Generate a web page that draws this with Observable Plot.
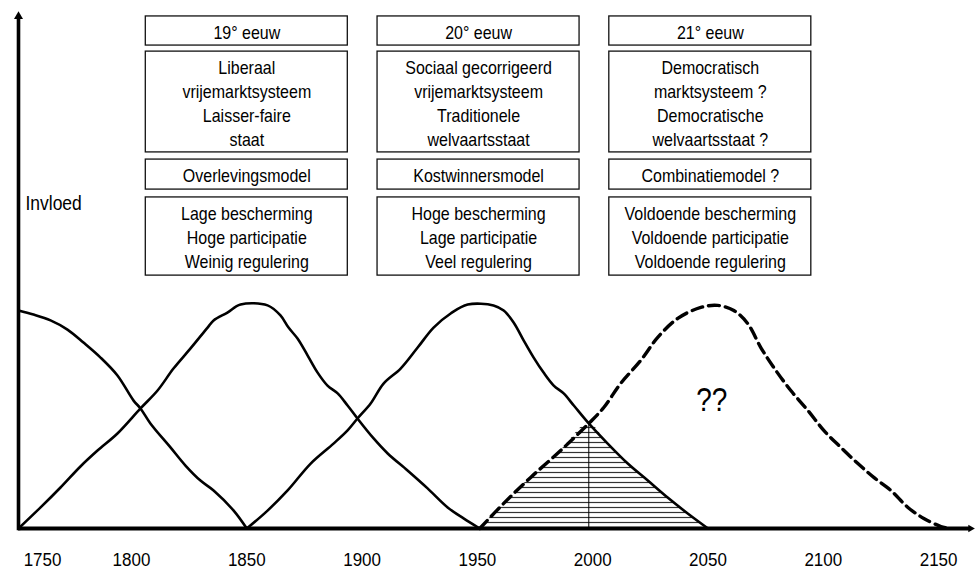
<!DOCTYPE html>
<html>
<head>
<meta charset="utf-8">
<script src="https://cdn.jsdelivr.net/npm/d3@7"></script>
<script src="https://cdn.jsdelivr.net/npm/@observablehq/plot@0.6"></script>
<style>
  html, body { margin: 0; padding: 0; background: #fff; }
  #chart svg { display: block; }
</style>
</head>
<body>
<div id="chart"></div>
<script>
// ---------- data ----------
const tickYears = [1750, 1800, 1850, 1900, 1950, 2000, 2050, 2100, 2150];

const eras = ["19° eeuw", "20° eeuw", "21° eeuw"];
const eraCenters = [1850, 1950.5, 2051];
const systems = [
  "Liberaal\nvrijemarktsysteem\nLaisser-faire\nstaat",
  "Sociaal gecorrigeerd\nvrijemarktsysteem\nTraditionele\nwelvaartsstaat",
  "Democratisch\nmarktsysteem ?\nDemocratische\nwelvaartsstaat ?"
];
const models = ["Overlevingsmodel", "Kostwinnersmodel", "Combinatiemodel ?"];
const traits = [
  "Lage bescherming\nHoge participatie\nWeinig regulering",
  "Hoge bescherming\nLage participatie\nVeel regulering",
  "Voldoende bescherming\nVoldoende participatie\nVoldoende regulering"
];

// influence curves: [year, influence]
const curve18 = [[1736.5,0.973],[1744.9,0.955],[1754.5,0.929],[1764.0,0.888],[1773.0,0.830],[1782.6,0.763],[1792.1,0.683],[1800.9,0.571],[1803.9,0.536],[1808.2,0.469],[1816.9,0.362],[1823.4,0.281],[1829.9,0.214],[1835.6,0.170],[1844.3,0.080],[1850,0]];
const curve19 = [[1736.5,0],[1748.9,0.094],[1760.1,0.183],[1771.3,0.277],[1780.9,0.348],[1792.1,0.424],[1803.9,0.536],[1811.3,0.616],[1818.2,0.714],[1825.6,0.804],[1833.0,0.897],[1835.6,0.929],[1841.6,0.964],[1847.3,1.0],[1859.0,0.996],[1864.6,0.951],[1868.1,0.897],[1872.0,0.848],[1876.4,0.772],[1880.7,0.696],[1885.0,0.638],[1889.4,0.603],[1893.7,0.549],[1898.0,0.491],[1905.0,0.402],[1911.1,0.335],[1919.7,0.259],[1928.4,0.179],[1937.1,0.094],[1944.0,0.045],[1951,0]];
const curve20 = [[1850,0],[1859.0,0.080],[1867.7,0.170],[1877.7,0.290],[1887.6,0.379],[1893.7,0.438],[1898.0,0.491],[1903.7,0.558],[1909.3,0.647],[1916.7,0.714],[1924.1,0.808],[1931.0,0.897],[1938.4,0.960],[1945.8,1.0],[1957.0,0.996],[1961.4,0.973],[1965.7,0.920],[1970.1,0.839],[1974.4,0.763],[1978.7,0.696],[1983.1,0.638],[1987.4,0.603],[1991.8,0.549],[1998.3,0.469],[2006.5,0.379],[2015.2,0.290],[2023.9,0.214],[2032.5,0.138],[2041.2,0.067],[2050,0]];
const curve21 = [[1951,0],[1961.4,0.112],[1973.1,0.228],[1986.1,0.348],[1998.3,0.469],[2004.8,0.540],[2012.1,0.647],[2020.8,0.750],[2028.2,0.853],[2036.9,0.938],[2046.9,0.987],[2054.2,0.996],[2061.2,0.973],[2067.2,0.915],[2072.9,0.808],[2078.5,0.719],[2085.9,0.616],[2093.3,0.527],[2100.2,0.438],[2107.6,0.362],[2115.0,0.290],[2121.9,0.228],[2129.3,0.170],[2136.7,0.094],[2143.6,0.045],[2151.0,0.009],[2154.5,0]];
const overlapYear = 1998.3;

// ---------- fonts ----------
function hasFont(name) {
  const c = document.createElement("canvas").getContext("2d");
  const s = "vrijemarktsysteem Il 1750";
  c.font = "40px monospace"; const a = c.measureText(s).width;
  c.font = `40px "${name}", monospace`; const b = c.measureText(s).width;
  return Math.abs(a - b) > 0.5;
}
// the reference lettering is tall and narrow: regular sans, stretched vertically
let family = '"Liberation Sans", Arial, sans-serif';
let stretch = 1.2, tickStretch = 1.12, boxSize = 16, tickSize = 17, labelSize = 17.5, qSize = 28;
if (hasFont("Liberation Sans Narrow")) {
  family = '"Liberation Sans Narrow", sans-serif'; stretch = 1; tickStretch = 1; boxSize = 19.5; tickSize = 19.5; labelSize = 20; qSize = 33;
}

// ---------- layout (in scale units) ----------
const xStart = 1736.5, xEnd = 2166, yTop = 2.317;
const boxHalf = 43.8;
const rows = [
  {y1: 2.156, y2: 2.286, texts: eras},
  {y1: 1.679, y2: 2.129, texts: systems},
  {y1: 1.513, y2: 1.647, texts: models},
  {y1: 1.129, y2: 1.478, texts: traits}
];
const boxes = rows.flatMap(r => eraCenters.map((c, i) => ({x1: c - boxHalf, x2: c + boxHalf, y1: r.y1, y2: r.y2, text: r.texts[i]})));

const hatch = [...curve21.filter(d => d[0] <= overlapYear), ...curve20.filter(d => d[0] > overlapYear)];
const overlapValue = curve20.find(d => d[0] === overlapYear)[1];

const chart = Plot.plot({
  width: 975,
  height: 571,
  marginTop: 0, marginLeft: 0, marginRight: 0, marginBottom: 43,
  x: {type: "linear", domain: [xStart, 1800, xEnd], range: [18, 131, 975], axis: null},
  y: {domain: [0, yTop], range: [528, 9], axis: null},
  style: {fontFamily: family, background: "white", color: "black"},
  marks: [
    Plot.areaY(hatch, {x: d => d[0], y: d => d[1], fill: "url(#hatch)", curve: "catmull-rom"}),
    Plot.ruleX([overlapYear], {y1: 0, y2: overlapValue, stroke: "black", strokeWidth: 1}),
    Plot.line(curve18, {x: d => d[0], y: d => d[1], stroke: "black", strokeWidth: 2.6, curve: "catmull-rom"}),
    Plot.line(curve19, {x: d => d[0], y: d => d[1], stroke: "black", strokeWidth: 2.6, curve: "catmull-rom"}),
    Plot.line(curve20, {x: d => d[0], y: d => d[1], stroke: "black", strokeWidth: 2.6, curve: "catmull-rom"}),
    Plot.line(curve21, {x: d => d[0], y: d => d[1], stroke: "black", strokeWidth: 3.4, strokeDasharray: "11,6", curve: "catmull-rom"}),
    // axes with arrows
    Plot.ruleY([0], {x1: xStart, x2: xEnd - 2.5, stroke: "black", strokeWidth: 4}),
    Plot.ruleX([xStart], {y1: -0.01, y2: yTop - 0.03, stroke: "black", strokeWidth: 3.6}),
    Plot.dot([[xStart, yTop]], {x: d => d[0], y: d => d[1], symbol: "triangle2", r: 4.3, fill: "black", stroke: "none", dy: 7}),
    Plot.dot([[xEnd, 0]], {x: d => d[0], y: d => d[1], symbol: "triangle2", r: 3.6, fill: "black", stroke: "none", rotate: 90, dx: -5}),
    Plot.axisX({ticks: tickYears, tickSize: 0, tickPadding: 24, tickFormat: "d", fontSize: tickSize, fill: "black"}),
    // boxes
    Plot.rect(boxes, {x1: "x1", x2: "x2", y1: "y1", y2: "y2", fill: "white", stroke: "#111", strokeWidth: 1.3}),
    Plot.text(boxes, {x: d => (d.x1 + d.x2) / 2, y: d => (d.y1 + d.y2) / 2, text: "text", lineAnchor: "middle", lineHeight: 24 / (boxSize * stretch), fontSize: boxSize, fill: "black"}),
    Plot.text(["Invloed"], {x: 1740.4, y: 1.451, text: d => d, textAnchor: "start", fontSize: labelSize, fill: "black"}),
    Plot.text(["??"], {x: 2051.6, y: 0.571, text: d => d, fontSize: qSize, fill: "black"})
  ]
});

// hatch pattern
const ns = "http://www.w3.org/2000/svg";
const defs = document.createElementNS(ns, "defs");
const pat = document.createElementNS(ns, "pattern");
pat.setAttribute("id", "hatch");
pat.setAttribute("patternUnits", "userSpaceOnUse");
pat.setAttribute("width", "8");
pat.setAttribute("height", "5");
const ln = document.createElementNS(ns, "line");
ln.setAttribute("x1", "0"); ln.setAttribute("x2", "8");
ln.setAttribute("y1", "2.5"); ln.setAttribute("y2", "2.5");
ln.setAttribute("stroke", "#333"); ln.setAttribute("stroke-width", "1.2");
pat.appendChild(ln);
defs.appendChild(pat);
chart.insertBefore(defs, chart.firstChild);

// vertical stretch of lettering, around each text's own anchor point
function stretchText(t, s) {
  if (s === 1) return;
  let x = 0, y = 0;
  const xa = t.getAttribute("x"), ya = t.getAttribute("y");
  if (xa !== null && isFinite(+xa)) { x = +xa; t.removeAttribute("x"); }
  if (ya !== null && isFinite(+ya)) { y = +ya; t.removeAttribute("y"); }
  const tr = t.getAttribute("transform") || "";
  t.setAttribute("transform", `${tr} translate(${x},${y}) scale(1,${s})`);
}
const tickTexts = new Set(chart.querySelectorAll('g[aria-label="x-axis tick label"] text'));
chart.querySelectorAll("text").forEach(t => stretchText(t, tickTexts.has(t) ? tickStretch : stretch));

document.getElementById("chart").appendChild(chart);
</script>
</body>
</html>
